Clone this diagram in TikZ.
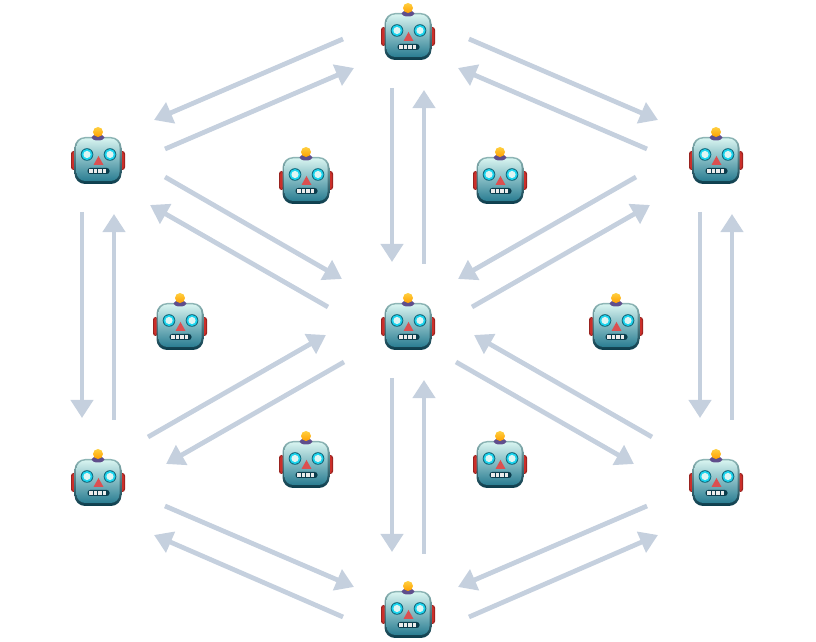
\documentclass[tikz,border=0pt]{standalone}
\usetikzlibrary{calc,positioning,arrows.meta}

\definecolor{flowgray}{HTML}{C5D0DE}
\definecolor{headtop}{HTML}{D6F3EF}
\definecolor{headmid}{HTML}{A3CCCB}
\definecolor{headlow}{HTML}{2A7D92}
\definecolor{rimtop}{HTML}{8DB5B5}
\definecolor{rimmid}{HTML}{5C9398}
\definecolor{headrim}{HTML}{0B3C4C}
\definecolor{earred}{HTML}{CC2F2A}
\definecolor{eyecyan}{HTML}{1AD4EE}
\definecolor{eyewhite}{HTML}{DDF5F3}
\definecolor{nosered}{HTML}{DC4F50}
\definecolor{knobpurple}{HTML}{5F4E8C}
\definecolor{knoborange}{HTML}{FF9F00}
\definecolor{knoblight}{HTML}{FFD040}

\tikzset{
  flow/.style={draw=flowgray, line width=2.7pt, -{Triangle[length=10.3pt,width=12.5pt]}},
  bot/.pic={
    % ears
    \fill[earred!75!black, rounded corners=1.5pt] (-27,-14) rectangle (-22,5);
    \fill[earred, rounded corners=1.5pt] (-26,-13) rectangle (-23,4);
    \fill[earred!75!black, rounded corners=1.5pt] (22,-14) rectangle (27,5);
    \fill[earred, rounded corners=1.5pt] (23,-13) rectangle (26,4);
    % head
    \shade[top color=rimtop, middle color=rimmid, bottom color=headrim, rounded corners=6pt]
      (-23.5,-28) rectangle (23.5,19);
    \shade[top color=headtop, middle color=headmid, bottom color=headlow, rounded corners=5pt]
      (-21.5,-25) rectangle (21.5,17.5);
    % knob
    \fill[knobpurple] (0,18.5) ellipse (6.5 and 3);
    \shade[top color=knoblight, bottom color=knoborange] (0,24) circle (5);
    % eyes
    \foreach \eyex in {-11,12} {
      \fill[headrim!70!eyecyan] (\eyex,1.5) circle (6.3);
      \fill[eyecyan] (\eyex,1.5) circle (5.5);
      \fill[eyewhite] (\eyex,1.5) circle (3.6);
    }
    % nose
    \fill[nosered] (-4.5,-9) -- (.5,0) -- (5.5,-9) -- cycle;
    % mouth
    \fill[headrim, rounded corners=1.5pt] (-10.5,-18) rectangle (11.5,-12);
    \foreach \toothx in {-9,-4.5,0,4.5} {
      \fill[white!85!gray] (\toothx,-16.7) rectangle ++(3.6,3.4);
    }
  }
}

\begin{document}
\begin{tikzpicture}[x=.02cm, y=.02cm]
  \useasboundingbox (0,0) rectangle (816,642);

  % Points
  \coordinate (top) at (408,610);
  \coordinate (upleft) at (98,486);
  \coordinate (upright) at (716,486);
  \coordinate (mid) at (408,320);
  \coordinate (lowleft) at (98,164);
  \coordinate (lowright) at (716,164);
  \coordinate (bottom) at (408,32);
  \coordinate (innerA) at (306,466);
  \coordinate (innerB) at (500,466);
  \coordinate (innerC) at (180,320);
  \coordinate (innerD) at (616,320);
  \coordinate (innerE) at (306,182);
  \coordinate (innerF) at (500,182);

  % Robots
  \foreach \point in {top,upleft,upright,mid,lowleft,lowright,bottom,innerA,innerB,innerC,innerD,innerE,innerF} {
    \pic at (\point) {bot};
  }

  % Arrows along the outer ring and through the middle
  \foreach \from/\fromoff/\to/\tooff in {
    top/{-65,-7}/upleft/{56,36},
    upleft/{67,7}/top/{-54,-36},
    top/{61,-7}/upright/{-58,36},
    upright/{-69,7}/top/{50,-36},
    top/{-16,-56}/mid/{-16,60},
    mid/{16,58}/top/{16,-58},
    upleft/{-16,-56}/lowleft/{-16,60},
    lowleft/{16,58}/upleft/{16,-58},
    upright/{-16,-56}/lowright/{-16,60},
    lowright/{16,58}/upright/{16,-58},
    upleft/{67,-21}/mid/{-66,43},
    mid/{-80,15}/upleft/{52,-49},
    upright/{-80,-21}/mid/{50,43},
    mid/{64,15}/upright/{-66,-49},
    lowleft/{50,41}/mid/{-82,-13},
    mid/{-64,-40}/lowleft/{68,14},
    lowright/{-64,41}/mid/{66,-13},
    mid/{48,-40}/lowright/{-82,14},
    mid/{-16,-56}/bottom/{-16,58},
    bottom/{16,56}/mid/{16,-58},
    bottom/{-65,-7}/lowleft/{56,-57},
    lowleft/{67,-28}/bottom/{-54,23},
    bottom/{61,-7}/lowright/{-58,-57},
    lowright/{-69,-28}/bottom/{50,23}} {
    \draw[flow] ($(\from)+(\fromoff)$) -- ($(\to)+(\tooff)$);
  }
\end{tikzpicture}
\end{document}
